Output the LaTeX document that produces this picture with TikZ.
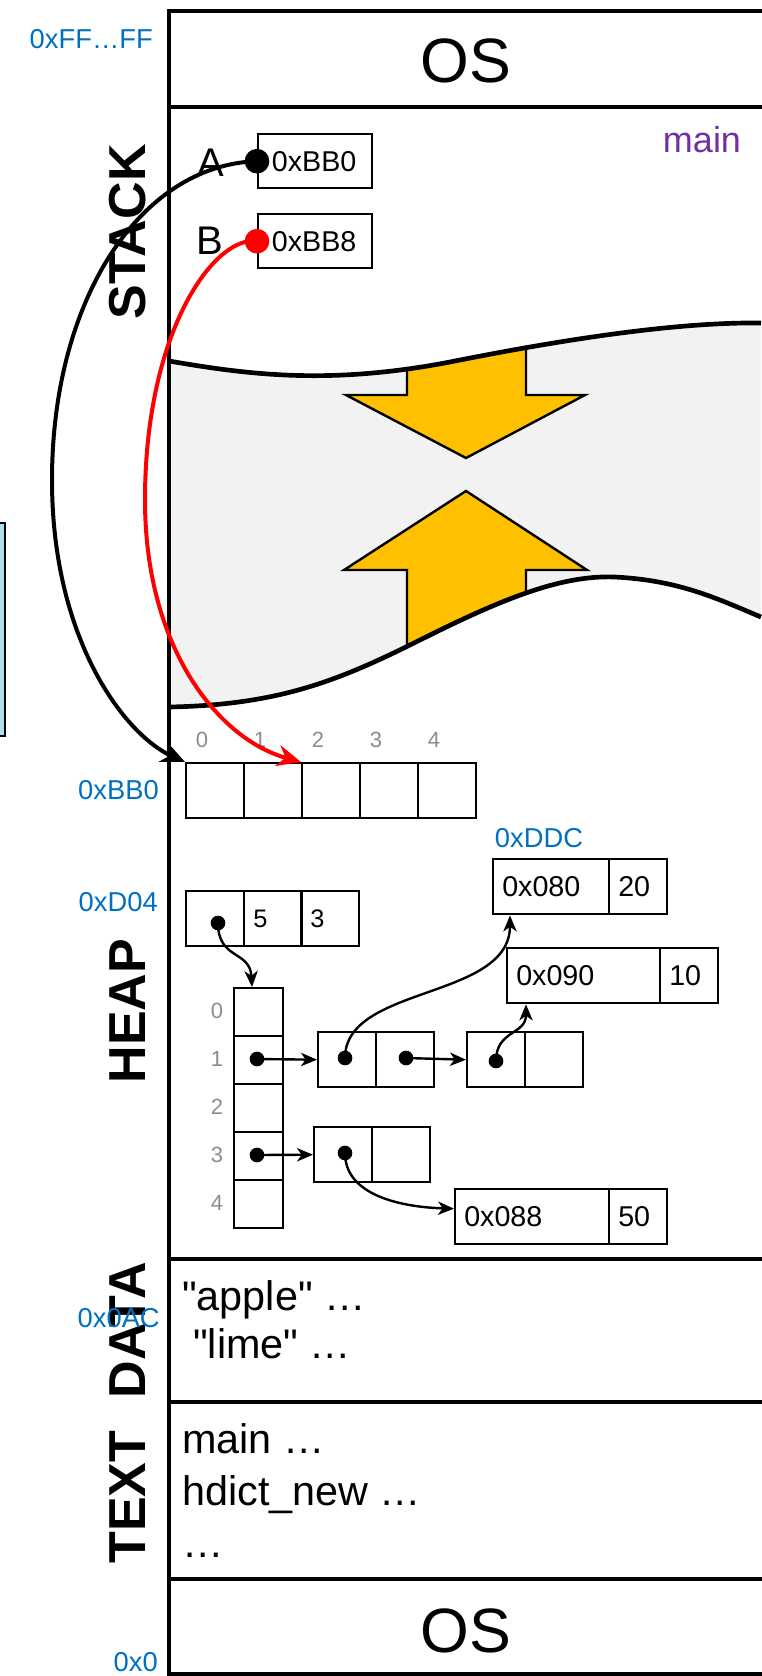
\documentclass[tikz,border=0pt]{standalone}
\usepackage{fontspec}
\setmainfont{Liberation Sans}[Ligatures=TeXOff]
\usetikzlibrary{arrows.meta,positioning}

\definecolor{addrblue}{HTML}{0070C0}
\definecolor{fnpurple}{HTML}{7030A0}
\definecolor{idxgray}{HTML}{8C8C8C}
\definecolor{gapgray}{HTML}{F2F2F2}
\definecolor{growyellow}{HTML}{FFC000}
\definecolor{sideblue}{HTML}{B1DDF0}

\tikzset{
  cell/.style={draw, line width=1.8pt, anchor=north west, inner sep=0pt, minimum height=41.25pt},
  val/.style={anchor=west, inner xsep=7.5pt, inner ysep=0pt, font=\fontsize{21.5}{26}\selectfont},
  dot/.style={circle, fill, inner sep=0pt, minimum size=11pt},
  bigdot/.style={circle, fill, inner sep=0pt, minimum size=18.5pt},
  addr/.style={text=addrblue, anchor=east, inner sep=0pt, font=\fontsize{20.5}{24}\selectfont},
  idx/.style={text=idxgray, inner sep=0pt, font=\fontsize{16.5}{20}\selectfont},
  seg/.style={rotate=90, inner sep=0pt, font=\bfseries\fontsize{39}{47}\selectfont},
  os/.style={anchor=base, inner sep=0pt, font=\fontsize{47}{56}\selectfont},
  code/.style={anchor=base west, inner sep=0pt, font=\fontsize{31}{37}\selectfont},
  varname/.style={anchor=base, inner sep=0pt, font=\fontsize{30}{36}\selectfont},
  wall/.style={line width=3.5pt},
  wave/.style={line width=3.5pt},
  bigptr/.style={line width=3pt, -{Stealth[length=18pt, width=16pt, inset=6pt]}},
  ptr/.style={line width=1.8pt, -{Stealth[length=12pt, width=10pt, inset=3.5pt]}},
  growarrow/.style={fill=growyellow, draw=black, line width=1.8pt, line join=miter},
}

\begin{document}
\begin{tikzpicture}[x=0.75pt, y=-0.75pt]
    \useasboundingbox (0,0) rectangle (761,1676);

    % box cut off at the left edge
    \filldraw[fill=sideblue, draw=black, line width=1.8pt] (-10,523) rectangle (5,736);

    % free space between stack and heap
    \begin{scope}
        \clip (169,361) .. controls (250,375) and (330,385) .. (450,362)
              .. controls (570,338) and (680,322) .. (761,323) -- (761,617)
              .. controls (720,600) and (680,580) .. (614,577)
              .. controls (560,575) and (500,600) .. (420,640)
              .. controls (340,680) and (280,705) .. (169,707) -- cycle;
        \fill[gapgray] (150,300) rectangle (770,720);
        \draw[growarrow] (407,330) -- (407,395) -- (346,395) -- (466,458) -- (585,395) -- (526,395) -- (526,330) -- cycle;
        \draw[growarrow] (466,491) -- (587,570) -- (526,570) -- (526,710) -- (407,710) -- (407,570) -- (344,570) -- cycle;
    \end{scope}
    \draw[wave] (169,361) .. controls (250,375) and (330,385) .. (450,362)
                .. controls (570,338) and (680,322) .. (761,323);
    \draw[wave] (169,707) .. controls (280,705) and (340,680) .. (420,640)
                .. controls (500,600) and (560,575) .. (614,577)
                .. controls (680,580) and (720,600) .. (761,617);

    % memory column
    \draw[wall] (169,11) rectangle (765,1674);
    \draw[wall] (169,107) -- (765,107);
    \draw[wall] (169,1259) -- (765,1259);
    \draw[wall] (169,1402) -- (765,1402);
    \draw[wall] (169,1579) -- (765,1579);

    \node[os] (ostop) at (466,83) {OS};
    \node[os] (osbot) at (466,1652) {OS};

    \node[seg] (lstack) at (128,232) {STACK};
    \node[seg] (lheap) at (128,1011) {HEAP};
    \node[seg] (ldata) at (128,1330) {DATA};
    \node[seg] (ltext) at (128,1497) {TEXT};

    % addresses
    \node[addr] (atop) at (153,39) {0xFF…FF};
    \node[addr] (aarr) at (159,790) {0xBB0};
    \node[addr] (ahd) at (158,902) {0xD04};
    \node[addr, anchor=center] (aent) at (539,838) {0xDDC};
    \node[addr] (astr) at (160,1318) {0x0AC};
    \node[addr] (azero) at (158,1662) {0x0};

    % stack frame of main
    \node[anchor=base, inner sep=0pt, text=fnpurple, font=\fontsize{27}{32}\selectfont] (fmain) at (702,153) {main};
    \node[varname] (nA) at (211,177) {A};
    \node[varname] (nB) at (210,255) {B};
    \node[cell, minimum width=85.5pt, minimum height=40.5pt] (varA) at (257,133) {};
    \node[cell, minimum width=85.5pt, minimum height=40.5pt] (varB) at (257,213) {};
    \node[val, inner xsep=11pt] (vA) at (varA.west) {0xBB0};
    \node[val, inner xsep=11pt] (vB) at (varB.west) {0xBB8};

    % array at 0xBB0
    \foreach \i in {0,...,4} {
        \node[cell, minimum width=43.5pt] (arr\i) at ({185+58*\i},762) {};
        \node[idx] (arrix\i) at ({202+58*\i},740) {\i};
    }

    % hdict header at 0xD04
    \node[cell, minimum width=43.5pt] (hd0) at (185,890) {};
    \node[cell, minimum width=43.5pt] (hd1) at (243,890) {};
    \node[cell, minimum width=43.5pt] (hd2) at (300,890) {};
    \node[val, font=\fontsize{19}{23}\selectfont] (hdsize) at (hd1.west) {5};
    \node[val, font=\fontsize{19}{23}\selectfont] (hdcap) at (hd2.west) {3};
    \node[dot] (hdp) at (218,923) {};

    % buckets
    \foreach \i in {0,...,4} {
        \node[cell, minimum width=36.75pt, minimum height=36pt] (bkt\i) at (233,{987+48*\i}) {};
        \node[idx] (bktix\i) at (217,{1011+48*\i}) {\i};
    }
    \node[dot] (bkd1) at (257,1059) {};
    \node[dot] (bkd3) at (257,1155) {};

    % chain nodes
    \node[cell, minimum width=43.5pt] (ch1a) at (317,1031) {};
    \node[cell, minimum width=43.5pt] (ch1b) at (375,1031) {};
    \node[cell, minimum width=43.5pt] (ch2a) at (466,1031) {};
    \node[cell, minimum width=43.5pt] (ch2b) at (524,1031) {};
    \node[cell, minimum width=43.5pt] (ch3a) at (313,1126) {};
    \node[cell, minimum width=43.5pt] (ch3b) at (371,1126) {};
    \node[dot] (ch1ad) at (345,1058) {};
    \node[dot] (ch1bd) at (406,1058) {};
    \node[dot] (ch2ad) at (496,1061) {};
    \node[dot] (ch3ad) at (345,1153) {};

    % entries
    \node[cell, minimum width=87pt] (e20k) at (492,858) {};
    \node[cell, minimum width=43.5pt] (e20v) at (608,858) {};
    \node[cell, minimum width=114.75pt] (e10k) at (506,947) {};
    \node[cell, minimum width=43.5pt] (e10v) at (659,947) {};
    \node[cell, minimum width=115.5pt] (e50k) at (454,1188) {};
    \node[cell, minimum width=43.5pt] (e50v) at (608,1188) {};
    \node[val] (t20k) at (e20k.west) {0x080};
    \node[val] (t20v) at (e20v.west) {20};
    \node[val] (t10k) at (e10k.west) {0x090};
    \node[val] (t10v) at (e10v.west) {10};
    \node[val] (t50k) at (e50k.west) {0x088};
    \node[val] (t50v) at (e50v.west) {50};

    % pointers inside the heap
    \draw[ptr] (hdp.center) .. controls (218,960) and (250,950) .. ([xshift=-5pt]bkt0.north);
    \draw[ptr] (bkd1.center) -- (ch1a.west);
    \draw[ptr] (ch1bd.center) -- (ch2a.west);
    \draw[ptr] (bkd3.center) -- (ch3a.west);
    \draw[ptr] (ch1ad.center) .. controls (345,985) and (510,1000) .. ([xshift=13.5pt]e20k.south west);
    \draw[ptr] (ch2ad.center) .. controls (496,1030) and (526,1035) .. ([xshift=15pt]e10k.south west);
    \draw[ptr] (ch3ad.center) .. controls (345,1195) and (400,1207) .. ([yshift=6pt]e50k.west);

    % data and text segments
    \node[code] (sapple) at (182,1310) {"apple" …};
    \node[code] (slime) at (193,1358) {"lime" …};
    \node[code] (fmainc) at (182,1453) {main …};
    \node[code] (fnew) at (182,1505) {hdict\_new …};
    \node[code] (fmore) at (182,1557) {…};

    % stack pointers into the array
    \coordinate (bendA) at (52,480);
    \coordinate (bendB) at (145,500);
    \draw[bigptr] (varA.west) .. controls (140,165) and (52,300) .. (bendA)
        .. controls (52,640) and (125,735) .. (arr0.north west);
    \draw[bigptr, red] (varB.west) .. controls (215,235) and (145,330) .. (bendB)
        .. controls (145,650) and (220,740) .. (arr2.north west);
    \node[bigdot] (dA) at (varA.west) {};
    \node[bigdot, red] (dB) at (varB.west) {};
\end{tikzpicture}
\end{document}
